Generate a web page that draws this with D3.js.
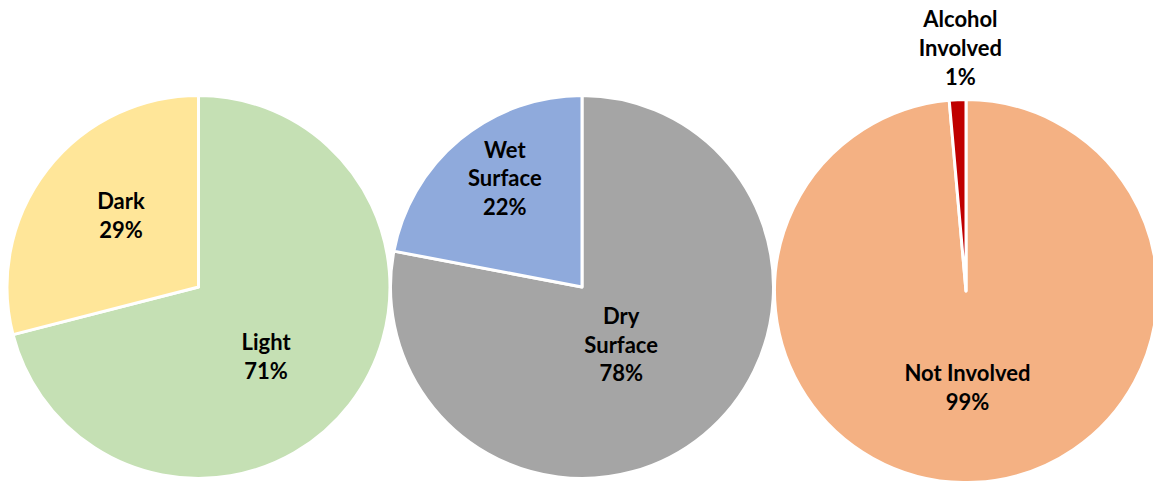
<!DOCTYPE html>
<html>
<head>
<meta charset="utf-8">
<script src="https://cdn.jsdelivr.net/npm/d3@7"></script>
<style>
  html, body { margin: 0; padding: 0; background: #ffffff; }
  svg { display: block; }
</style>
</head>
<body>
<svg id="chart" width="1153" height="481"></svg>
<script>
// ---- Data ----
const lightCategories = ["Light", "Dark"];
const lightValues = [71, 29];
const lightColors = ["#C5E0B4", "#FFE699"];

const surfaceCategories = ["Dry\nSurface", "Wet\nSurface"];
const surfaceValues = [78, 22];
const surfaceColors = ["#A5A5A5", "#8FAADC"];

const alcoholCategories = ["Not Involved", "Alcohol\nInvolved"];
const alcoholValues = [98.6, 1.4];
const alcoholColors = ["#F4B183", "#C00000"];

// ---- Layout (positions / styling only) ----
const W = 1153, H = 481;
const R = 191.5;               // radius incl. half of white border
const fontSize = 22;
const lineH = 28.8;
const capH = fontSize * 0.72;

const pies = [
  { cats: lightCategories, vals: lightValues, cols: lightColors, cx: 198.5, cy: 287,
    labelR: [0.53, 0.53], nudge: [[-12, 8], [2, -10]] },
  { cats: surfaceCategories, vals: surfaceValues, cols: surfaceColors, cx: 582, cy: 287,
    labelR: [0.53, 0.53], nudge: [[-25, -20], [-13, -31]] },
  { cats: alcoholCategories, vals: alcoholValues, cols: alcoholColors, cx: 966, cy: 291,
    labelR: [0.53, 1.27], nudge: [[-3, -4], [5, -2]] }
];

const svg = d3.select("#chart");
svg.append("rect").attr("width", W).attr("height", H).attr("fill", "#ffffff");

const pieGen = d3.pie().sort(null).value(d => d.v);
const arcGen = d3.arc().innerRadius(0).outerRadius(R);

pies.forEach(p => {
  const data = p.cats.map((c, i) => ({ c, v: p.vals[i], col: p.cols[i], i }));
  const total = d3.sum(p.vals);
  const arcs = pieGen(data);
  const g = svg.append("g").attr("transform", `translate(${p.cx},${p.cy})`);

  g.selectAll("path.slice")
    .data(arcs)
    .join("path")
    .attr("class", "slice")
    .attr("d", arcGen)
    .attr("fill", d => d.data.col)
    .attr("stroke", "#ffffff")
    .attr("stroke-width", 3)
    .attr("stroke-linejoin", "round");

  arcs.forEach(a => {
    const i = a.data.i;
    const lr = p.labelR[i] * 190;
    const lab = d3.arc().innerRadius(lr).outerRadius(lr);
    const [x0, y0] = lab.centroid(a);
    const x = x0 + p.nudge[i][0];
    const y = y0 + p.nudge[i][1];
    const lines = a.data.c.split("\n").concat([Math.round(a.data.v / total * 100) + "%"]);
    const firstBase = y - (lines.length - 1) * lineH / 2 + capH / 2;
    const t = g.append("text")
      .attr("text-anchor", "middle")
      .attr("font-family", "Lato, 'Open Sans', sans-serif")
      .attr("font-weight", "bold")
      .attr("font-size", fontSize)
      .attr("fill", "#000000");
    lines.forEach((ln, k) => {
      t.append("tspan").attr("x", x).attr("y", firstBase + k * lineH).text(ln);
    });
  });
});
</script>
</body>
</html>
